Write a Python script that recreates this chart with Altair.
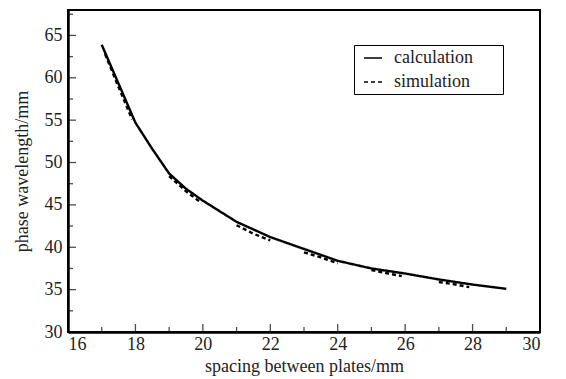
import altair as alt
import pandas as pd

# calculation curve
calc_x = [17, 17.5, 18, 18.5, 19, 19.5, 20, 21, 22, 23, 24, 25, 26, 27, 28, 29]
calc_y = [63.9, 59.3, 54.7, 51.6, 48.7, 46.9, 45.5, 43.0, 41.2, 39.8, 38.4, 37.5, 36.9, 36.2, 35.6, 35.1]

# simulation segments
sim_x = [17.1, 17.5, 17.9, 19.0, 19.5, 19.9, 21.0, 21.5, 22.0, 23.0, 23.5, 24.0,
         25.0, 25.5, 25.9, 27.0, 27.5, 27.9]
sim_y = [62.8, 58.9, 55.1, 48.4, 46.6, 45.4, 42.6, 41.6, 40.8, 39.4, 38.8, 38.1,
         37.3, 36.9, 36.6, 35.9, 35.6, 35.3]
sim_seg = [1, 1, 1, 2, 2, 2, 3, 3, 3, 4, 4, 4, 5, 5, 5, 6, 6, 6]

x_major = [16, 18, 20, 22, 24, 26, 28, 30]
x_minor = [17, 19, 21, 23, 25, 27, 29]
y_major = [30, 35, 40, 45, 50, 55, 60, 65]
y_minor = [32.5, 37.5, 42.5, 47.5, 52.5, 57.5, 62.5, 67.5]

FONT = "Times New Roman, Liberation Serif, DejaVu Serif, serif"

df = pd.concat([
    pd.DataFrame({"x": calc_x, "y": calc_y, "series": "calculation", "seg": 0}),
    pd.DataFrame({"x": sim_x, "y": sim_y, "series": "simulation", "seg": sim_seg}),
])

xs = alt.Scale(domain=[16, 30], nice=False, zero=False)
ys = alt.Scale(domain=[30, 68], nice=False, zero=False)

lines = alt.Chart(df).mark_line(color="black", strokeWidth=2.4).encode(
    x=alt.X("x:Q", scale=xs, title="spacing between plates/mm",
            axis=alt.Axis(values=x_major, ticks=False, grid=False, labelPadding=3,
                          titlePadding=4)),
    y=alt.Y("y:Q", scale=ys, title="phase wavelength/mm",
            axis=alt.Axis(values=y_major, ticks=False, grid=False, labelPadding=6,
                          titlePadding=13)),
    strokeDash=alt.StrokeDash("series:N", title=None,
                              scale=alt.Scale(domain=["calculation", "simulation"],
                                              range=[[1, 0], [4, 3]]),
                              legend=alt.Legend(
                                  labelExpr="datum.label + '\u2800\u2800'")),
    detail="seg:N",
)

def yticks(vals, size):
    return alt.Chart(pd.DataFrame({"v": vals})).mark_tick(
        orient="horizontal", color="black", size=size, thickness=1.3, xOffset=size / 2
    ).encode(x=alt.datum(16, scale=xs), y=alt.Y("v:Q", scale=ys))

def xticks(vals, size):
    return alt.Chart(pd.DataFrame({"v": vals})).mark_tick(
        orient="vertical", color="black", size=size, thickness=1.3, yOffset=-size / 2
    ).encode(y=alt.datum(30, scale=ys), x=alt.X("v:Q", scale=xs))

chart = alt.layer(
    lines,
    yticks(y_major, 8), yticks(y_minor, 5),
    xticks(x_major, 8), xticks(x_minor, 5),
).properties(
    width=472, height=322,
    padding={"top": 2, "left": 5, "right": 5, "bottom": 5},
).configure_view(
    stroke="black", strokeWidth=2
).configure_axis(
    domainColor="black", domainWidth=2.5,
    labelFont=FONT, labelFontSize=18, labelColor="#222",
    titleFont=FONT, titleFontSize=18, titleFontWeight="normal", titleColor="#222",
).configure_legend(
    orient="none", legendX=286, legendY=35,
    strokeColor="black", padding=3, fillColor="white",
    symbolType="stroke", symbolSize=324, symbolStrokeWidth=1.6, symbolStrokeColor="black",
    symbolOffset=6,
    labelFont=FONT, labelFontSize=18, labelColor="#222", rowPadding=5,
    labelOffset=11,
)

chart.save("out.html", embed_options={"renderer": "svg", "actions": False})
